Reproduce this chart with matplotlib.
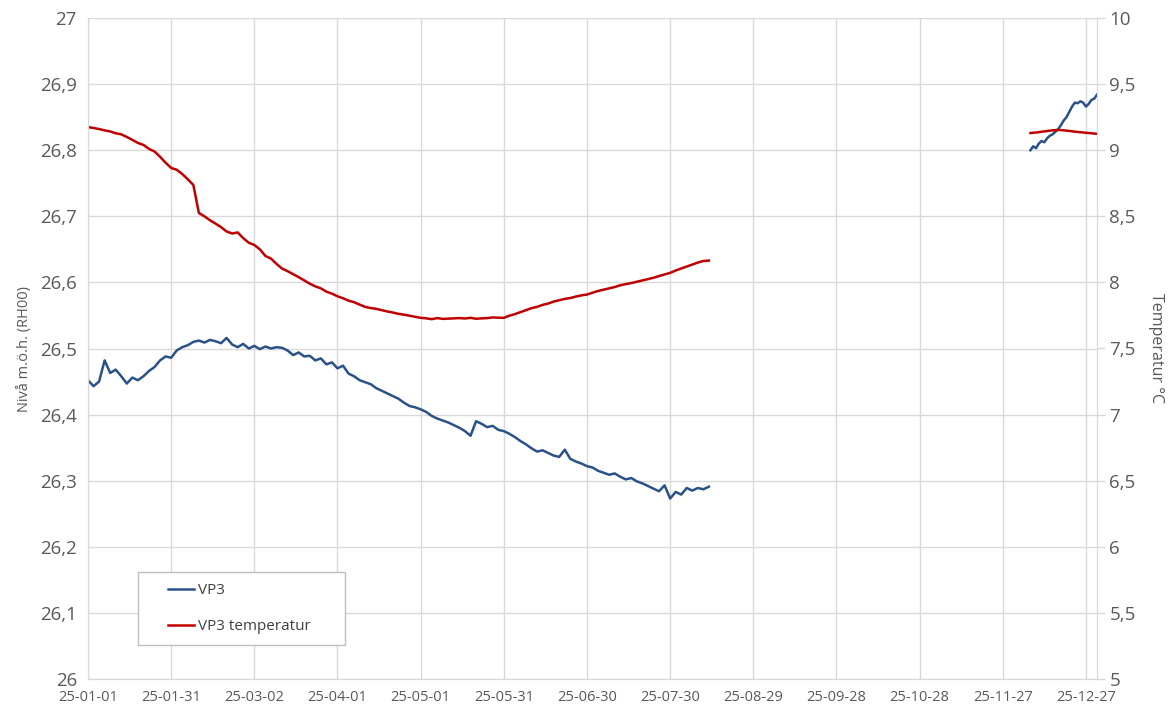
import numpy as np
import pandas as pd
import matplotlib
matplotlib.use("Agg")
import matplotlib.pyplot as plt
import matplotlib.dates as mdates
from matplotlib.patches import Rectangle

# VP3 nivå, var annan dag från 2025-01-01
vp3_jan_aug = [
    26.452, 26.443, 26.450, 26.482, 26.463, 26.468, 26.458, 26.447, 26.456, 26.452,
    26.458, 26.466, 26.472, 26.482, 26.488, 26.486, 26.497, 26.502, 26.505, 26.510,
    26.512, 26.509, 26.513, 26.511, 26.508, 26.516, 26.506, 26.502, 26.507, 26.500,
    26.504, 26.499, 26.503, 26.500, 26.502, 26.501, 26.497, 26.490, 26.494, 26.488,
    26.489, 26.482, 26.485, 26.476, 26.479, 26.470, 26.474, 26.462, 26.458, 26.452,
    26.449, 26.446, 26.440, 26.436, 26.432, 26.428, 26.424, 26.418, 26.413, 26.411,
    26.408, 26.404, 26.398, 26.394, 26.391, 26.388, 26.384, 26.380, 26.375, 26.368,
    26.390, 26.386, 26.381, 26.383, 26.377, 26.375, 26.371, 26.366, 26.360, 26.355,
    26.349, 26.344, 26.346, 26.342, 26.338, 26.336, 26.347, 26.333, 26.329, 26.326,
    26.322, 26.320, 26.315, 26.312, 26.309, 26.311, 26.306, 26.302, 26.304, 26.299,
    26.296, 26.292, 26.288, 26.284, 26.293, 26.273, 26.283, 26.279, 26.289, 26.285,
    26.289, 26.287, 26.291,
]
temp_jan_aug = [
    9.175, 9.168, 9.160, 9.150, 9.142, 9.128, 9.120, 9.100, 9.078, 9.055,
    9.040, 9.010, 8.990, 8.950, 8.905, 8.866, 8.852, 8.820, 8.780, 8.737,
    8.525, 8.500, 8.470, 8.445, 8.418, 8.385, 8.370, 8.378, 8.335, 8.300,
    8.283, 8.250, 8.200, 8.180, 8.140, 8.105, 8.085, 8.062, 8.040, 8.015,
    7.990, 7.970, 7.955, 7.930, 7.915, 7.895, 7.880, 7.862, 7.850, 7.832,
    7.815, 7.806, 7.800, 7.790, 7.780, 7.772, 7.762, 7.756, 7.748, 7.740,
    7.732, 7.728, 7.722, 7.730, 7.724, 7.726, 7.728, 7.730, 7.727, 7.732,
    7.725, 7.728, 7.730, 7.735, 7.733, 7.732, 7.748, 7.760, 7.775, 7.790,
    7.805, 7.815, 7.830, 7.840, 7.855, 7.865, 7.875, 7.882, 7.893, 7.902,
    7.908, 7.922, 7.935, 7.945, 7.955, 7.965, 7.978, 7.987, 7.995, 8.005,
    8.015, 8.025, 8.035, 8.048, 8.060, 8.072, 8.090, 8.105, 8.120, 8.135,
    8.150, 8.162, 8.165,
]

# december, en gång per dag från 2025-12-07
vp3_dec = [
    26.800, 26.806, 26.803, 26.810, 26.814, 26.812, 26.818, 26.822, 26.824, 26.828,
    26.832, 26.838, 26.845, 26.850, 26.858, 26.866, 26.872, 26.871, 26.874, 26.872,
    26.866, 26.870, 26.876, 26.878, 26.884,
]
temp_dec = [
    9.130, 9.132, 9.134, 9.136, 9.140, 9.142, 9.145, 9.148, 9.150, 9.152,
    9.153, 9.152, 9.150, 9.148, 9.146, 9.143, 9.140, 9.138, 9.136, 9.134,
    9.132, 9.130, 9.128, 9.126, 9.124,
]

start = pd.Timestamp("2025-01-01")
d1 = pd.date_range(start, periods=len(vp3_jan_aug), freq="2D")
d2 = pd.date_range("2025-12-07", periods=len(vp3_dec), freq="D")

blue = "#2a5288"
red = "#c00000"
grid_c = "#d9d9d9"
txt_c = "#595959"

plt.rcParams['font.family'] = ['Open Sans', 'DejaVu Sans']

fig = plt.figure(figsize=(11.68, 7.06), dpi=100)
ax = fig.add_axes([88 / 1168, 27 / 706, 1009 / 1168, 661 / 706])
ax2 = ax.twinx()

l1, = ax.plot(d1, vp3_jan_aug, color=blue, lw=1.8, label="VP3")
ax.plot(d2, vp3_dec, color=blue, lw=1.8)
l2, = ax2.plot(d1, temp_jan_aug, color=red, lw=1.8, label="VP3 temperatur")
ax2.plot(d2, temp_dec, color=red, lw=1.8)

ax.set_ylim(26, 27)
ax.set_yticks(np.arange(26, 27.01, 0.1))
ax.set_yticklabels([f"{v:g}".replace(".", ",") for v in np.round(np.arange(26, 27.01, 0.1), 1)])
ax2.set_ylim(5, 10)
ax2.set_yticks(np.arange(5, 10.01, 0.5))
ax2.set_yticklabels([f"{v:g}".replace(".", ",") for v in np.arange(5, 10.01, 0.5)])

ax.set_xlim(start, pd.Timestamp("2025-12-31"))
ax.set_xticks(pd.date_range(start, periods=13, freq="30D"))
ax.xaxis.set_major_formatter(mdates.DateFormatter("%y-%m-%d"))

ax.grid(True, color=grid_c, lw=1)
ax.set_axisbelow(True)
for a in (ax, ax2):
    for s in a.spines.values():
        s.set_color(grid_c)
    a.spines['top'].set_visible(False)
ax.tick_params(axis='both', length=0, colors=txt_c)
ax.tick_params(axis='y', labelsize=13.5, pad=8)
ax.tick_params(axis='x', labelsize=10.5, pad=8)
ax2.tick_params(axis='y', length=6, width=1, color=grid_c, labelcolor=txt_c,
                labelsize=13.5, pad=3)

ax.set_ylabel("Nivå m.ö.h. (RH00)", color=txt_c, fontsize=10.5, labelpad=6)
ax2.set_ylabel("Temperatur °C", color=txt_c, fontsize=11.5, rotation=-90, labelpad=20)

# legendram som i originalet, lite luft till vänster
ax2.add_patch(Rectangle((0.0496, 0.0514), 0.205, 0.110, transform=ax2.transAxes,
                        facecolor="white", edgecolor="#bfbfbf", lw=1, zorder=4))
leg = ax2.legend(handles=[l1, l2], loc="center left", bbox_to_anchor=(0.079, 0.1064),
                 frameon=False, fontsize=11, handlelength=1.75,
                 labelspacing=1.35, borderpad=0, handletextpad=0.25,
                 borderaxespad=0)
leg.set_zorder(5)
for t in leg.get_texts():
    t.set_color("#404040")

fig.savefig("out.png", dpi=100)
